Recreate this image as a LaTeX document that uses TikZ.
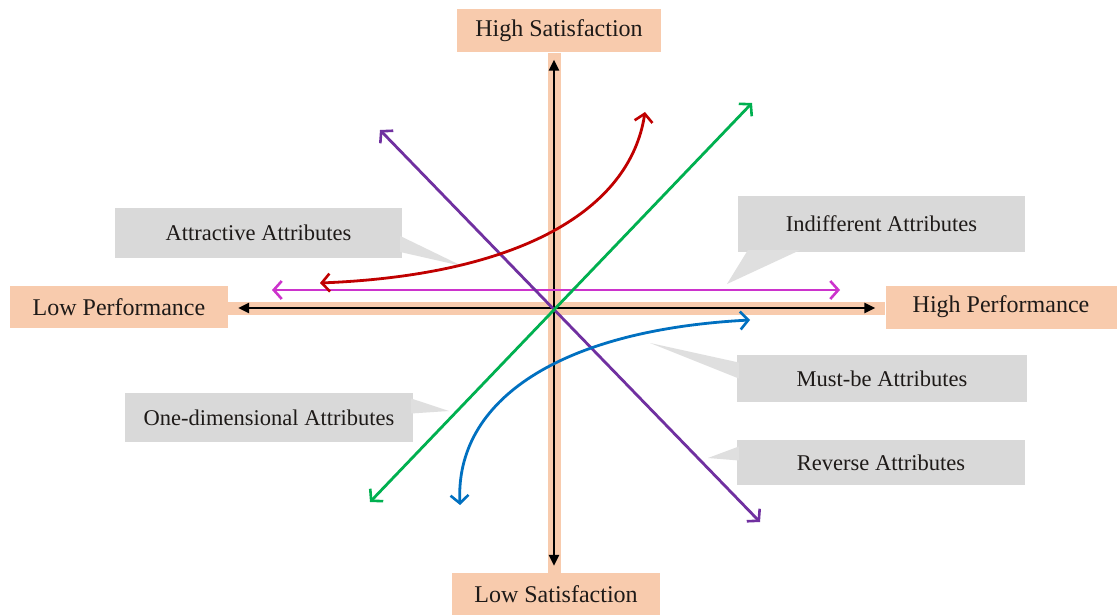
\documentclass[tikz,border=0pt]{standalone}
\usepackage{fontspec}
\setmainfont{Liberation Serif}
\usetikzlibrary{arrows.meta,calc}
\definecolor{peach}{HTML}{F8CBAD}
\definecolor{boxgray}{HTML}{D9D9D9}
\definecolor{txt}{HTML}{1E1A18}
\definecolor{cpurple}{HTML}{7030A0}
\definecolor{cgreen}{HTML}{00B050}
\definecolor{cred}{HTML}{C00000}
\definecolor{cblue}{HTML}{0070C0}
\definecolor{cmag}{HTML}{CC33CC}
\tikzset{
  axislabel/.style={fill=peach, inner sep=0pt, text=txt, font=\fontsize{24}{28}\selectfont},
  attrbox/.style={fill=boxgray, inner sep=0pt, text=txt, font=\fontsize{22.5}{26}\selectfont},
  wedge/.style={fill=boxgray!85},
  stripe/.style={peach, line width=13pt},
  axisline/.style={black, line width=2.8pt, {Triangle[length=11pt,width=10pt]}-{Triangle[length=11pt,width=10pt]}},
  dcurveline/.style={line width=2.8pt, line cap=round, {Straight Barb[length=8pt,width=18pt,line width=2.6pt]}-{Straight Barb[length=8pt,width=18pt,line width=2.6pt]}}
}
\begin{document}
\begin{tikzpicture}[x=1pt,y=-1pt]
\useasboundingbox (0,0) rectangle (1119,615);
\fill[white] (0,0) rectangle (1119,615);
\coordinate (O) at (554,308);

% axis label boxes
\node[axislabel, minimum width=204pt, minimum height=43pt] (hs) at (559,31) {High Satisfaction};
\node[axislabel, minimum width=208pt, minimum height=42pt] (ls) at (556,594) {Low Satisfaction};
\node[axislabel, minimum width=218pt, minimum height=42pt] (lp) at (119,307) {Low Performance};
\node[axislabel, minimum width=231pt, minimum height=43pt] (hp) at (1001,307) {High Performance};

% peach stripes behind axes
\draw[stripe] (hs.south -| O) -- (ls.north -| O);
\draw[stripe] (lp.east |- O) -- (hp.west |- O);

% attribute boxes
\node[attrbox, minimum width=287pt, minimum height=50pt] (attr) at (258.5,233) {Attractive Attributes};
\node[attrbox, minimum width=287pt, minimum height=56pt] (indf) at (881.5,224) {Indifferent Attributes};
\node[attrbox, minimum width=290pt, minimum height=47pt] (must) at (882,378.5) {Must-be Attributes};
\node[attrbox, minimum width=288pt, minimum height=45pt] (rev) at (881,462.5) {Reverse Attributes};
\node[attrbox, minimum width=288pt, minimum height=49pt] (onedim) at (269,417.5) {One-dimensional Attributes};

% callout pointers
\coordinate (tA) at (462,266);
\coordinate (tI) at (727,284);
\coordinate (tM) at (650,343);
\coordinate (tR) at (708,458);
\coordinate (tO) at (449,411);
\fill[wedge] ($(attr.east)+(-2,3)$) -- (tA) -- ($(attr.east)+(-2,19)$) -- cycle;
\fill[wedge] ($(indf.south west)+(10,-2)$) -- (tI) -- ($(indf.south west)+(62,-2)$) -- cycle;
\fill[wedge] ($(must.west)+(2,-16)$) -- (tM) -- ($(must.west)+(2,0)$) -- cycle;
\fill[wedge] ($(rev.west)+(2,-16)$) -- (tR) -- ($(rev.west)+(2,-2)$) -- cycle;
\fill[wedge] ($(onedim.east)+(-2,-19)$) -- (tO) -- ($(onedim.east)+(-2,-4)$) -- cycle;

% black axes
\draw[axisline, shorten <=7pt, shorten >=7pt] (ls.north -| O) -- (hs.south -| O);
\draw[axisline, shorten <=10pt, shorten >=10pt] (lp.east |- O) -- (hp.west |- O);

% attribute curves
\coordinate (mL) at (272,290);
\coordinate (mR) at (840,290);
\draw[dcurveline, cmag] (mL) -- (mR);

\coordinate (pA) at (380,130);
\coordinate (pB) at (760,522);
\draw[dcurveline, cpurple] (pA) -- (pB);

\coordinate (gA) at (370,502);
\coordinate (gB) at (752,103);
\draw[dcurveline, cgreen] (gA) -- (gB);

\coordinate (rA) at (320,283);
\coordinate (rB) at (645,112);
\draw[dcurveline, cred] (rA) .. controls (520,275) and (630,210) .. (rB);

\coordinate (bA) at (460,505);
\coordinate (bB) at (750,320);
\draw[dcurveline, cblue] (bA) .. controls (455,400) and (560,330) .. (bB);
\end{tikzpicture}
\end{document}
